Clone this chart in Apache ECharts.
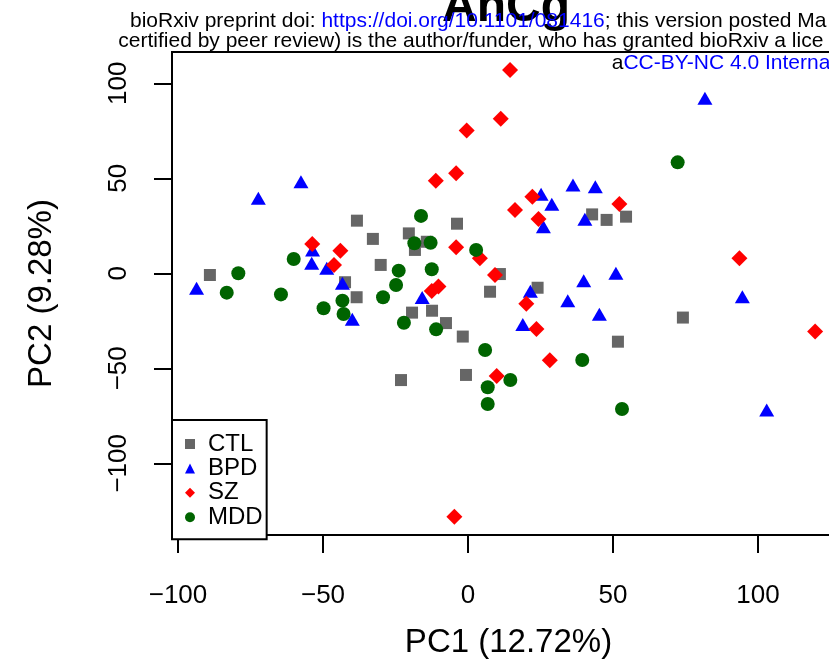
<!DOCTYPE html>
<html>
<head>
<meta charset="utf-8">
<script src="https://cdn.jsdelivr.net/npm/echarts@6/dist/echarts.min.js"></script>
<style>
html,body{margin:0;padding:0;background:#fff;}
#chart{width:829px;height:663px;}
</style>
</head>
<body>
<div id="chart"></div>
<script>
// ---- data (PC1, PC2) ----
const groupNames = ['CTL', 'BPD', 'SZ', 'MDD'];
const ctlPoints = [[-89.0,-0.9],[-38.3,27.7],[-32.8,18.1],[-20.4,21.0],[-14.2,16.6],[-18.3,12.3],[-3.8,26.1],[-30.1,4.4],[-42.4,-4.7],[-38.4,-12.6],[7.6,-9.7],[11.0,-0.4],[-19.3,-20.7],[-12.4,-19.7],[-7.6,-26.2],[-1.8,-33.3],[-23.1,-56.2],[-0.7,-53.5],[42.8,31.0],[47.8,28.1],[54.5,29.8],[24.0,-7.6],[74.1,-23.3],[51.7,-36.0]];
const bpdPoints = [[-93.6,-7.9],[-72.3,39.5],[-57.6,48.2],[-53.6,12.3],[-53.9,5.3],[-48.7,2.6],[-43.3,-5.3],[-15.8,-12.8],[-39.9,-24.2],[81.7,92.1],[36.2,46.5],[43.9,45.6],[25.2,41.6],[28.9,36.3],[26.0,24.5],[40.3,28.4],[94.6,-12.3],[51.0,0.0],[39.9,-3.9],[21.5,-9.5],[34.4,-14.5],[45.3,-21.6],[18.9,-26.9],[103.0,-71.9]];
const szPoints = [[-53.7,15.4],[-44.0,11.9],[-46.2,4.4],[-11.1,48.7],[-4.1,52.6],[-0.45,75.1],[11.3,81.4],[-4.1,13.7],[4.1,7.9],[9.3,-0.9],[-12.5,-9.3],[-10.2,-7.0],[14.5,107.0],[22.2,40.3],[52.2,36.5],[16.2,33.3],[24.3,28.6],[93.6,7.9],[20.1,-16.0],[23.6,-29.3],[28.2,-45.8],[9.9,-54.1],[119.7,-30.7],[-4.7,-128.1]];
const mddPoints = [[-79.2,0.0],[-83.2,-10.2],[-64.5,-11.1],[-60.1,7.5],[-43.3,-14.4],[-29.3,-12.6],[-23.9,1.4],[-24.8,-6.2],[-16.2,30.2],[-18.5,15.8],[-12.9,16.1],[-12.5,2.1],[2.8,12.3],[-49.8,-18.4],[-42.9,-21.4],[-22.1,-26.0],[-11.0,-29.5],[5.9,-40.4],[6.8,-60.0],[6.8,-68.8],[72.3,58.4],[53.1,-71.4],[39.4,-45.6],[14.6,-56.2]];
const xTicks = [-100, -50, 0, 50, 100];
const yTicks = [-100, -50, 0, 50, 100];
const xRange = [-102.07, 130.0];
const yRange = [-137.74, 116.47];
const titleText = 'AnCg';
const xTitle = 'PC1 (12.72%)';
const yTitle = 'PC2 (9.28%)';

const FONT = '"Liberation Sans", Arial, Helvetica, sans-serif';
const fmt = v => String(v).replace('-', '\u2212');

const chart = echarts.init(document.getElementById('chart'), null, {renderer: 'canvas'});

const option = {
  animation: false,
  backgroundColor: '#ffffff',
  grid: {
    left: 172, top: 52, width: 673, height: 483,
    outerBoundsMode: 'none', containLabel: false,
    show: true, borderColor: '#000', borderWidth: 2, backgroundColor: 'transparent'
  },
  xAxis: {
    type: 'value', min: xRange[0], max: xRange[1],
    axisLine: {show: false, onZero: false},
    splitLine: {show: false},
    axisTick: {show: true, customValues: xTicks, length: 18, inside: false, lineStyle: {color: '#000', width: 2}},
    axisLabel: {show: true, customValues: xTicks, formatter: fmt, fontSize: 26, fontFamily: FONT, color: '#000', margin: 48},
    name: xTitle, nameLocation: 'middle', nameGap: 91,
    nameTextStyle: {fontSize: 33, fontFamily: FONT, color: '#000'}
  },
  yAxis: {
    type: 'value', min: yRange[0], max: yRange[1],
    axisLine: {show: false, onZero: false},
    splitLine: {show: false},
    axisTick: {show: true, customValues: yTicks, length: 18, inside: false, lineStyle: {color: '#000', width: 2}},
    axisLabel: {show: true, customValues: yTicks, formatter: fmt, rotate: 90, fontSize: 26, fontFamily: FONT, color: '#000', margin: 40},
    name: yTitle, nameLocation: 'middle', nameGap: 114,
    nameTextStyle: {fontSize: 33, fontFamily: FONT, color: '#000'}
  },
  legend: {
    orient: 'vertical', left: 172, top: 420,
    padding: [12, 4, 10, 13],
    itemGap: 0.4, itemWidth: 10, itemHeight: 10,
    selectedMode: false,
    backgroundColor: '#fff', borderColor: '#000', borderWidth: 2, borderRadius: 0,
    textStyle: {fontSize: 24, fontFamily: FONT, color: '#000', lineHeight: 23, padding: [0, 0, 0, 8]},
    data: [
      {name: groupNames[0], icon: 'rect'},
      {name: groupNames[1], icon: 'triangle'},
      {name: groupNames[2], icon: 'diamond'},
      {name: groupNames[3], icon: 'circle'}
    ]
  },
  series: [
    {type: 'scatter', name: groupNames[0], data: ctlPoints, symbol: 'rect', symbolSize: 12, itemStyle: {color: '#666666', opacity: 1}, emphasis: {disabled: true}},
    {type: 'scatter', name: groupNames[1], data: bpdPoints, symbol: 'triangle', symbolSize: [15, 13], itemStyle: {color: '#0000FF', opacity: 1}, emphasis: {disabled: true}},
    {type: 'scatter', name: groupNames[2], data: szPoints, symbol: 'diamond', symbolSize: 16, itemStyle: {color: '#FF0000', opacity: 1}, emphasis: {disabled: true}},
    {type: 'scatter', name: groupNames[3], data: mddPoints, symbol: 'circle', symbolSize: 14, itemStyle: {color: '#006400', opacity: 1}, emphasis: {disabled: true}}
  ],
  graphic: [
    {type: 'text', x: 506, y: 7.4, z: 50,
     style: {text: titleText, font: 'bold 48px ' + FONT, fill: '#000', align: 'center', verticalAlign: 'middle'}},
    {type: 'text', x: 130, y: 21, z: 60,
     style: {text: '{k|bioRxiv preprint doi: }{b|https://doi.org/10.1101/081416}{k|; this version posted Ma}',
       align: 'left', verticalAlign: 'middle',
       rich: {k: {fontSize: 21, fontFamily: FONT, fill: '#000'}, b: {fontSize: 21, fontFamily: FONT, fill: '#0000FF'}}}},
    {type: 'text', x: 118.3, y: 41.7, z: 60,
     style: {text: 'certified by peer review) is the author/funder, who has granted bioRxiv a lice',
       font: '21px ' + FONT, fill: '#000', align: 'left', verticalAlign: 'middle'}},
    {type: 'text', x: 611.7, y: 63.4, z: 60,
     style: {text: '{k|a}{b|CC-BY-NC 4.0 Interna}',
       align: 'left', verticalAlign: 'middle',
       rich: {k: {fontSize: 21, fontFamily: FONT, fill: '#000'}, b: {fontSize: 21, fontFamily: FONT, fill: '#0000FF'}}}}
  ]
};
chart.setOption(option);
</script>
</body>
</html>
